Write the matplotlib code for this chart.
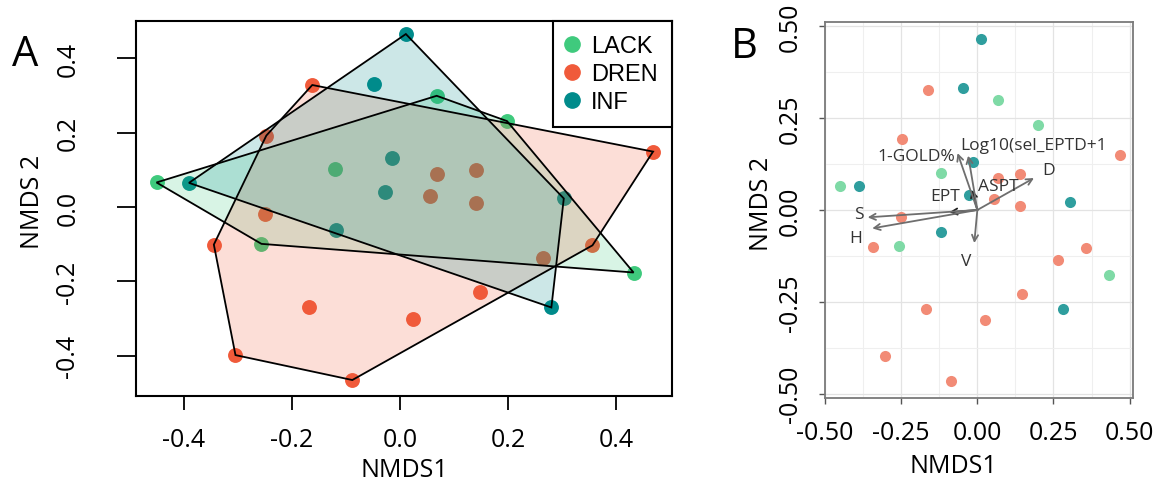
import numpy as np
import matplotlib
matplotlib.use('Agg')
from matplotlib import pyplot as plt
from matplotlib.patches import Polygon
from matplotlib.lines import Line2D

plt.rcParams['font.family'] = ['Open Sans', 'DejaVu Sans']

# NMDS site scores
groups = ['LACK', 'DREN', 'INF']

lack_x = [-0.450, 0.068, 0.198, 0.432, -0.256, -0.120]
lack_y = [0.066, 0.299, 0.231, -0.176, -0.099, 0.102]

dren_x = [-0.162, -0.247, 0.468, 0.068, 0.141, 0.055, 0.141, -0.250,
          -0.344, 0.356, 0.264, 0.148, -0.168, 0.025, -0.304, -0.088]
dren_y = [0.328, 0.192, 0.149, 0.088, 0.099, 0.030, 0.010, -0.020,
          -0.101, -0.103, -0.137, -0.228, -0.270, -0.300, -0.398, -0.465]

inf_x = [0.011, -0.048, -0.015, -0.028, -0.118, -0.390, 0.303, 0.280]
inf_y = [0.465, 0.331, 0.131, 0.040, -0.061, 0.065, 0.023, -0.270]

# envfit vectors (panel B)
vec_names = ['D', 'ASPT', 'EPT', 'Log10(sel_EPTD+1', '1-GOLD%', 'S', 'H', 'V']
vec_x = [0.186, -0.018, -0.092, -0.030, -0.065, -0.360, -0.345, -0.010]
vec_y = [0.087, 0.055, -0.006, 0.148, 0.155, -0.020, -0.050, -0.090]
lab_x = [0.235, 0.068, -0.105, 0.183, -0.200, -0.390, -0.400, -0.036]
lab_y = [0.110, 0.066, 0.038, 0.177, 0.147, -0.012, -0.076, -0.140]

data = {'LACK': (lack_x, lack_y), 'DREN': (dren_x, dren_y), 'INF': (inf_x, inf_y)}
col_a = {'LACK': '#3fca7d', 'DREN': '#f05a3a', 'INF': '#008b8b'}
col_b = {'LACK': '#7fdaa6', 'DREN': '#f28b76', 'INF': '#2f9e9e'}


def convex_hull(xs, ys):
    pts = sorted(zip(xs, ys))

    def cross(o, a, b):
        return (a[0] - o[0]) * (b[1] - o[1]) - (a[1] - o[1]) * (b[0] - o[0])

    lower, upper = [], []
    for p in pts:
        while len(lower) >= 2 and cross(lower[-2], lower[-1], p) <= 0:
            lower.pop()
        lower.append(p)
    for p in reversed(pts):
        while len(upper) >= 2 and cross(upper[-2], upper[-1], p) <= 0:
            upper.pop()
        upper.append(p)
    return lower[:-1] + upper[:-1]


fig = plt.figure(figsize=(11.63, 4.85), dpi=100)

####    Panel A
axA = fig.add_axes([0.1169, 0.1814, 0.4609, 0.7732])
for g in groups:
    x, y = data[g]
    axA.scatter(x, y, s=115, color=col_a[g], zorder=2, linewidths=0)
for g in groups:
    x, y = data[g]
    poly = Polygon(convex_hull(x, y), closed=True, facecolor=col_a[g], alpha=0.2,
                   edgecolor='none', zorder=3)
    axA.add_patch(poly)
    edge = Polygon(convex_hull(x, y), closed=True, facecolor='none',
                   edgecolor='black', lw=1.3, zorder=4)
    axA.add_patch(edge)

axA.set_xlim(-0.488, 0.503)
axA.set_ylim(-0.508, 0.5)
axA.set_xticks([-0.4, -0.2, 0.0, 0.2, 0.4], ['-0.4', '-0.2', '0.0', '0.2', '0.4'])
axA.set_yticks([-0.4, -0.2, 0.0, 0.2, 0.4], ['-0.4', '-0.2', '0.0', '0.2', '0.4'],
               rotation=90, va='center')
axA.tick_params(axis='x', length=10, width=1.3, pad=12, labelsize=18)
axA.tick_params(axis='y', length=14, width=1.3, pad=26, labelsize=18)
for s in axA.spines.values():
    s.set_linewidth(1.5)
axA.set_xlabel('NMDS1', fontsize=18)
axA.set_ylabel('NMDS 2', fontsize=18)
axA.xaxis.set_label_coords(0.5, -0.163)
axA.yaxis.set_label_coords(-0.17, 0.52)

handles = [Line2D([], [], marker='o', ls='none', color=col_a[g], markersize=11) for g in groups]
leg = axA.legend(handles, groups, loc='upper right', borderaxespad=0, frameon=True,
                 fancybox=False, edgecolor='black', handlelength=0.4, handletextpad=0.6,
                 borderpad=0.6, labelspacing=0.25,
                 prop={'family': 'Liberation Sans', 'size': 17})
leg.get_frame().set_linewidth(1.5)
leg.get_frame().set_alpha(1)

####    Panel B
axB = fig.add_axes([0.7094, 0.1773, 0.2648, 0.7753])
axB.set_xlim(-0.492, 0.511)
axB.set_ylim(-0.512, 0.512)
ticks = [-0.5, -0.25, 0.0, 0.25, 0.5]
tlabs = ['-0.50', '-0.25', '0.00', '0.25', '0.50']
axB.set_xticks(ticks, tlabs)
axB.set_yticks(ticks, tlabs, rotation=90, va='center')
axB.set_xticks([-0.375, -0.125, 0.125, 0.375], minor=True)
axB.set_yticks([-0.375, -0.125, 0.125, 0.375], minor=True)
axB.grid(which='major', color='#e3e3e3', lw=0.9)
axB.grid(which='minor', color='#efefef', lw=0.8)
axB.set_axisbelow(True)
axB.tick_params(which='major', length=4, width=1, color='#555555', labelsize=18, pad=12)
axB.tick_params(which='minor', length=0)
for s in axB.spines.values():
    s.set_color('#7a7a7a')
    s.set_linewidth(1.3)

for g in groups:
    x, y = data[g]
    axB.scatter(x, y, s=64, color=col_b[g], zorder=3, linewidths=0)

for i, name in enumerate(vec_names):
    c = '#222222' if name in ('ASPT', 'EPT') else '#6e6e6e'
    axB.annotate('', xy=(vec_x[i], vec_y[i]), xytext=(0, 0),
                 arrowprops=dict(arrowstyle='->', color=c, lw=1.3, mutation_scale=11,
                                 shrinkA=0, shrinkB=0), zorder=4)
    axB.text(lab_x[i], lab_y[i], name, fontsize=12.5, color='#333333',
             ha='center', va='center', zorder=5)

axB.set_xlabel('NMDS1', fontsize=18)
axB.set_ylabel('NMDS 2', fontsize=18)
axB.xaxis.set_label_coords(0.416, -0.146)
axB.yaxis.set_label_coords(-0.165, 0.52)

fig.text(25 / 1163, 1 - 55 / 485, 'A', fontsize=30, ha='center', va='center')
fig.text(744 / 1163, 1 - 47 / 485, 'B', fontsize=30, ha='center', va='center')

fig.savefig('out.png', dpi=100)
